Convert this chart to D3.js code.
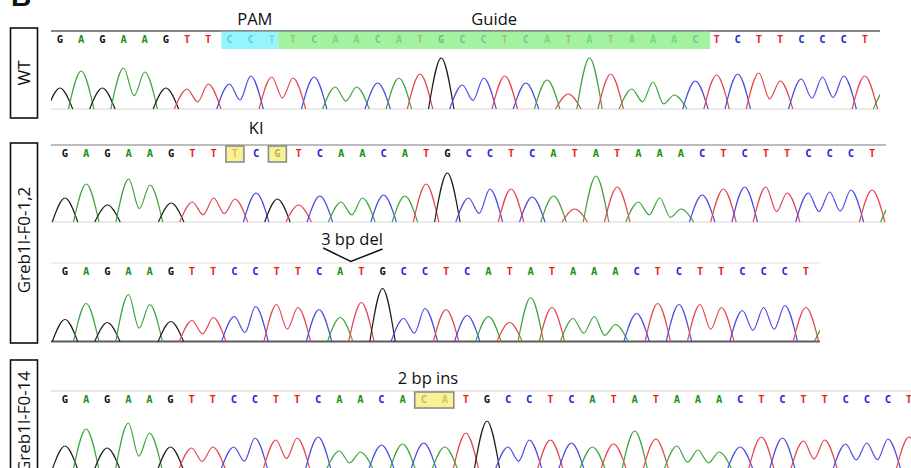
<!DOCTYPE html>
<html>
<head>
<meta charset="utf-8">
<script src="https://cdn.jsdelivr.net/npm/d3@7"></script>
<style>
  body { margin: 0; background: #fff; }
  svg { display: block; }
</style>
</head>
<body>
<svg width="911" height="468"></svg>
<script>
// base calls per read (one letter per peak)
const seqWT  = 'GAGAAGTTCCTTCAACATGCCTCATATAAACTCTTCCCT'.split('')
const seqKI  = 'GAGAAGTTTCGTCAACATGCCTCATATAAACTCTTCCCT'.split('')
const seqDel = 'GAGAAGTTCCTTCATGCCTCATATAAACTCTTCCCT'.split('')
const seqIns = 'GAGAAGTTCCTTCAACACATGCCTCATATAAACTCTTCCCT'.split('')

// peak heights (last value = next, partly shown peak)
const hWT  = [21,38,21,41,37,21,20,25,25,33,32,31,32,22,22,26,31,35,51,24,31,33,26,29,15,51,35,20,27,14,28,34,35,36,28,30,32,33,33, 20]
const hKI  = [24,38,17,43,37,19,20,24,23,29,23,17,26,20,24,27,26,38,49,24,33,33,25,26,13,46,35,20,24,13,27,33,35,35,29,29,30,32,32, 20]
const hDel = [22,38,19,47,37,20,21,24,25,35,37,34,32,24,39,53,23,33,32,26,25,19,44,34,23,25,17,28,38,37,37,34,31,34,36,34, 18]
const hIns = [23,40,21,46,36,22,21,22,22,31,29,31,32,18,17,24,25,26,22,36,48,22,29,29,26,22,25,38,30,23,19,17,22,32,31,28,29,25,26,30,32, 20]

const rowLabels = ['WT', 'Greb1l-F0-1,2', 'Greb1l-F0-14']
const notes = ['PAM', 'Guide', 'KI', '3 bp del', '2 bp ins']

const letterColor = {A: '#159515', C: '#1f1fd8', G: '#111', T: '#ee1f1f'}
const traceColor  = {A: '#3ea53e', C: '#4b4be0', G: '#1e1e1e', T: '#e6464e'}

const svg = d3.select('svg')

const panels = [
  {seq: seqWT,  h: hWT,  x0: 60, step: 21.18, top: 31,  base: 109, right: 880, topLine: '#111', topW: 1.2, baseLine: '#d6d6d6', baseW: 1},
  {seq: seqKI,  h: hKI,  x0: 65, step: 21.24, top: 145, base: 222, right: 886, topLine: '#7a7a7a', topW: 1.2, baseLine: '#d6d6d6', baseW: 1},
  {seq: seqDel, h: hDel, x0: 65, step: 21.17, top: 263, base: 341.5, right: 820, topLine: '#dedede', topW: 1, baseLine: '#5a5a5a', baseW: 2.2},
  {seq: seqIns, h: hIns, x0: 65, step: 21.1,  top: 391, base: 469, right: 911, topLine: '#cfcfcf', topW: 1, baseLine: '#5a5a5a', baseW: 2}
]

function drawPanel(p, n) {
  const x = d3.scaleLinear().domain([0, 1]).range([p.x0, p.x0 + p.step])
  const y = d3.scaleLinear().domain([0, 50]).range([p.base, p.base - 50])
  const g = svg.append('g').attr('class', 'panel' + n)
  p.x = x
  p.y = y

  svg.append('clipPath').attr('id', 'clip' + n)
    .append('rect')
    .attr('x', 51).attr('y', p.top)
    .attr('width', p.right - 51).attr('height', p.base - p.top + 3)

  g.append('line')
    .attr('x1', 51).attr('x2', p.right)
    .attr('y1', p.top).attr('y2', p.top)
    .attr('stroke', p.topLine).attr('stroke-width', p.topW)

  g.selectAll('text.base').data(p.seq).enter().append('text')
    .attr('class', 'base')
    .attr('x', function(d, i) { return x(i) })
    .attr('y', p.top + 11.5)
    .attr('text-anchor', 'middle')
    .attr('font-family', 'DejaVu Sans Mono')
    .attr('font-weight', 'bold')
    .attr('font-size', 10.5)
    .attr('fill', function(d) { return letterColor[d] })
    .text(function(d) { return d })

  g.append('line')
    .attr('x1', 51).attr('x2', p.right)
    .attr('y1', p.base).attr('y2', p.base)
    .attr('stroke', p.baseLine).attr('stroke-width', p.baseW)

  // trace: one hump per call, neighbouring peaks of the same dye joined at a valley
  const calls = p.seq.concat(['A'])
  const line = d3.line()
    .x(function(d) { return x(d[0]) })
    .y(function(d) { return y(d[1]) })
    .curve(d3.curveMonotoneX)
  const runs = []
  let i = 0
  while (i < calls.length) {
    let j = i
    while (j + 1 < calls.length && calls[j + 1] === calls[i]) j++
    const pts = [[i - 0.6, 0]]
    for (let k = i; k <= j; k++) {
      pts.push([k, p.h[k]])
      if (k < j) pts.push([k + 0.5, 0.36 * Math.min(p.h[k], p.h[k + 1])])
    }
    pts.push([j + 0.6, 0])
    runs.push({base: calls[i], pts: pts})
    i = j + 1
  }
  g.append('g').attr('clip-path', 'url(#clip' + n + ')')
    .selectAll('path').data(runs).enter().append('path')
    .attr('d', function(d) { return line(d.pts) })
    .attr('fill', 'none')
    .attr('stroke', function(d) { return traceColor[d.base] })
    .attr('stroke-width', 1.2)
    .attr('stroke-linejoin', 'round')
}

panels.forEach(drawPanel)

// highlight boxes (over the letters, as in the source figure)
const pw = panels[0]
svg.append('rect')
  .attr('x', pw.x(7.62)).attr('y', 31.5)
  .attr('width', pw.x(10.3) - pw.x(7.62)).attr('height', 17.5)
  .attr('fill', '#76f4fa').attr('fill-opacity', 0.78)
svg.append('rect')
  .attr('x', pw.x(10.3)).attr('y', 31.5)
  .attr('width', pw.x(30.7) - pw.x(10.3)).attr('height', 17.5)
  .attr('fill', '#88ee88').attr('fill-opacity', 0.78)

function yellowBox(p, from, to) {
  svg.append('rect')
    .attr('x', p.x(from) - 9).attr('y', p.top + 1)
    .attr('width', p.x(to) - p.x(from) + 18).attr('height', 16)
    .attr('fill', '#f7ec6e').attr('fill-opacity', 0.72)
    .attr('stroke', '#8c8c8c').attr('stroke-width', 1.6)
}
yellowBox(panels[1], 8, 8)
yellowBox(panels[1], 10, 10)
yellowBox(panels[3], 17, 18)

// annotations
const noteX = [pw.x(9.2), pw.x(20.5), panels[1].x(9), 352, 428]
const noteY = [25, 25, 134, 245, 384]
svg.selectAll('text.note').data(notes).enter().append('text')
  .attr('class', 'note')
  .attr('x', function(d, i) { return noteX[i] })
  .attr('y', function(d, i) { return noteY[i] })
  .attr('text-anchor', 'middle')
  .attr('font-family', 'Open Sans')
  .attr('font-size', 16.5)
  .attr('fill', '#111')
  .text(function(d) { return d })

// deletion chevron
const pd = panels[2]
svg.append('path')
  .attr('d', d3.line()([[pd.x(12.2), 248], [pd.x(13.5), 261.5], [pd.x(15), 249]]))
  .attr('fill', 'none').attr('stroke', '#111').attr('stroke-width', 1.5)

// row label boxes
const boxY = [28, 143, 360]
const boxH = [90, 200, 200]
const labelY = [73, 240, 422]
svg.selectAll('rect.lab').data(rowLabels).enter().append('rect')
  .attr('class', 'lab')
  .attr('x', 10.5)
  .attr('y', function(d, i) { return boxY[i] })
  .attr('width', 27)
  .attr('height', function(d, i) { return boxH[i] })
  .attr('fill', 'none').attr('stroke', '#111').attr('stroke-width', 1.6)
svg.selectAll('text.lab').data(rowLabels).enter().append('text')
  .attr('class', 'lab')
  .attr('transform', function(d, i) { return 'translate(24,' + labelY[i] + ') rotate(-90)' })
  .attr('dy', '0.36em')
  .attr('text-anchor', 'middle')
  .attr('font-family', 'Open Sans')
  .attr('font-size', 17)
  .attr('fill', '#111')
  .text(function(d) { return d })

// panel letter, cut off at the top edge
svg.append('text')
  .attr('x', 11).attr('y', 6)
  .attr('font-family', 'Liberation Sans')
  .attr('font-weight', 'bold')
  .attr('font-size', 28)
  .attr('fill', '#111')
  .text('B')
</script>
</body>
</html>
